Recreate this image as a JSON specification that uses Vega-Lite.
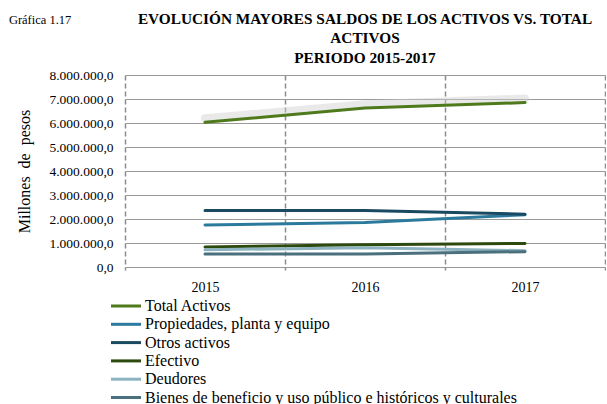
{
  "$schema": "https://vega.github.io/schema/vega-lite/v6.json",
  "padding": {"left": 8, "top": 11, "right": 0, "bottom": 0},
  "background": "white",
  "config": {
    "locale": {"number": {"decimal": ",", "thousands": ".", "grouping": [3], "currency": ["$", ""]}},
    "view": {"stroke": null},
    "font": "Liberation Serif",
    "axis": {"labelFont": "Liberation Serif", "titleFont": "Liberation Serif", "labelColor": "black", "titleColor": "black"},
    "legend": {"labelFont": "Liberation Serif", "labelColor": "black"}
  },
  "title": {
    "text": "Gráfica 1.17",
    "anchor": "start",
    "frame": "bounds",
    "font": "Liberation Serif",
    "fontSize": 12.5,
    "fontWeight": "normal",
    "color": "black",
    "offset": 0,
    "dx": -8,
    "dy": 15
  },
  "vconcat": [
    {
      "width": 480,
      "height": 192,
      "title": {
        "text": ["EVOLUCIÓN MAYORES SALDOS DE LOS ACTIVOS VS. TOTAL", "ACTIVOS", "PERIODO 2015-2017"],
        "anchor": "middle",
        "frame": "group",
        "font": "Liberation Serif",
        "fontSize": 15.3,
        "fontWeight": "bold",
        "lineHeight": 19.5,
        "color": "black",
        "offset": 2
      },
      "data": {
        "values": [
          {"year": 2015, "serie": "Total Activos", "valor": 6030000},
          {"year": 2016, "serie": "Total Activos", "valor": 6620000},
          {"year": 2017, "serie": "Total Activos", "valor": 6850000},
          {"year": 2015, "serie": "Propiedades, planta y equipo", "valor": 1750000},
          {"year": 2016, "serie": "Propiedades, planta y equipo", "valor": 1850000},
          {"year": 2017, "serie": "Propiedades, planta y equipo", "valor": 2180000},
          {"year": 2015, "serie": "Otros activos", "valor": 2350000},
          {"year": 2016, "serie": "Otros activos", "valor": 2350000},
          {"year": 2017, "serie": "Otros activos", "valor": 2200000},
          {"year": 2015, "serie": "Efectivo", "valor": 830000},
          {"year": 2016, "serie": "Efectivo", "valor": 930000},
          {"year": 2017, "serie": "Efectivo", "valor": 980000},
          {"year": 2015, "serie": "Deudores", "valor": 720000},
          {"year": 2016, "serie": "Deudores", "valor": 800000},
          {"year": 2017, "serie": "Deudores", "valor": 680000},
          {"year": 2015, "serie": "Bienes de beneficio y uso público e históricos y culturales", "valor": 540000},
          {"year": 2016, "serie": "Bienes de beneficio y uso público e históricos y culturales", "valor": 540000},
          {"year": 2017, "serie": "Bienes de beneficio y uso público e históricos y culturales", "valor": 640000}
        ]
      },
      "resolve": {"axis": {"x": "independent", "y": "independent"}},
      "layer": [
        {
          "transform": [{"filter": "datum.serie === 'Total Activos'"}],
          "mark": {"type": "line", "stroke": "#cfcfcf", "strokeWidth": 8, "opacity": 0.45, "yOffset": -4, "strokeCap": "round"},
          "encoding": {
            "x": {"field": "year", "type": "quantitative", "axis": null},
            "y": {"field": "valor", "type": "quantitative", "axis": null}
          }
        },
        {
          "mark": {"type": "line", "strokeWidth": 3, "strokeCap": "round"},
          "encoding": {
            "x": {
              "field": "year", "type": "quantitative",
              "scale": {"domain": [2014.5, 2017.5], "nice": false, "zero": false},
              "axis": {
                "values": [2014.5, 2015, 2015.5, 2016, 2016.5, 2017, 2017.5],
                "labelExpr": "datum.value % 1 === 0 ? format(datum.value, 'd') : ''",
                "labelOverlap": false,
                "labelFlush": false,
                "labelFont": "Liberation Serif", "labelFontSize": 14, "labelColor": "black",
                "labelPadding": 8,
                "title": null,
                "domain": false,
                "grid": true, "gridColor": "#8c8c8c", "gridDash": [5, 3], "gridWidth": 1.5,
                "gridOpacity": {"condition": {"test": "datum.value % 1 !== 0", "value": 1}, "value": 0},
                "ticks": true, "tickSize": 5, "tickColor": "#8c8c8c", "tickWidth": 1.5, "tickDash": [3, 2],
                "tickOpacity": {"condition": {"test": "datum.value % 1 !== 0", "value": 1}, "value": 0}
              }
            },
            "y": {
              "field": "valor", "type": "quantitative",
              "scale": {"domain": [0, 8000000], "nice": false},
              "axis": {
                "values": [0, 1000000, 2000000, 3000000, 4000000, 5000000, 6000000, 7000000, 8000000],
                "format": ",.1f",
                "labelOverlap": false,
                "grid": true, "gridColor": "#9a9a9a", "gridWidth": 1,
                "ticks": false, "domain": false,
                "labelFont": "Liberation Serif", "labelFontSize": 13.5, "labelColor": "black",
                "labelPadding": 12,
                "title": "Millones\u00a0\u00a0de\u00a0\u00a0pesos",
                "titleFont": "Liberation Serif", "titleFontSize": 16, "titleFontWeight": "normal",
                "titleColor": "black", "titlePadding": 16
              }
            },
            "color": {
              "field": "serie", "type": "nominal",
              "scale": {
                "domain": ["Total Activos", "Propiedades, planta y equipo", "Otros activos", "Efectivo", "Deudores", "Bienes de beneficio y uso público e históricos y culturales"],
                "range": ["#4e7a1c", "#2b7a9e", "#1a4a62", "#2d4a0e", "#8cb3bf", "#4a6f7d"]
              },
              "legend": {
                "orient": "none",
                "legendX": -7,
                "legendY": 223,
                "direction": "vertical",
                "title": null,
                "symbolType": "M-3,0H3",
                "symbolSize": 100,
                "symbolStrokeWidth": 3,
                "labelFont": "Liberation Serif",
                "labelFontSize": 16,
                "labelColor": "black",
                "labelOffset": 11,
                "labelLimit": 500,
                "rowPadding": 2.3,
                "padding": 0
              }
            }
          }
        }
      ]
    }
  ]
}
